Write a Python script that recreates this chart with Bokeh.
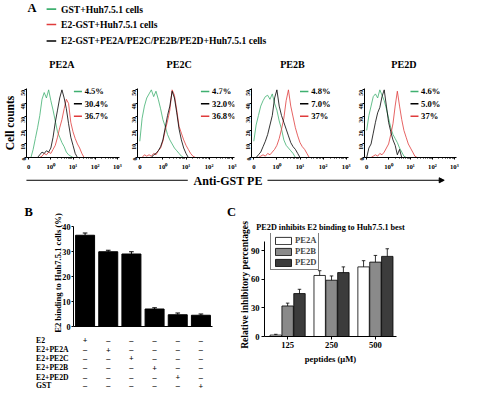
import math
from bokeh.plotting import figure
from bokeh.models import Range1d, FixedTicker, Legend, LegendItem, Arrow, NormalHead, Title
from bokeh.layouts import row, column
from bokeh.core.properties import value
from bokeh.embed import file_html
from bokeh.resources import INLINE

nan = float("nan")

# ---------------- data ----------------
legend_labels_A = ["GST+Huh7.5.1 cells", "E2-GST+Huh7.5.1 cells",
                   "E2-GST+PE2A/PE2C/PE2B/PE2D+Huh7.5.1 cells"]
panel_names = ["PE2A", "PE2C", "PE2B", "PE2D"]
pct_gst = ["4.5%", "4.7%", "4.8%", "4.6%"]
pct_peptide = ["30.4%", "32.0%", "7.0%", "5.0%"]
pct_e2 = ["36.7%", "36.8%", "37%", "37%"]

# log10 fluorescence bin centres ("0" label sits at -1)
hist_bins = [-1.0, -0.9, -0.8, -0.7, -0.6, -0.5, -0.4, -0.3, -0.2, -0.1, 0.0,
             0.1, 0.2, 0.3, 0.4, 0.5, 0.6, 0.7, 0.8, 0.9, 1.0, 1.1, 1.2, 1.3,
             1.4, 1.5, 1.6]
hist_tick_pos = [-1, 0, 1, 2, 3]
hist_tick_labels = ["0", "10⁰", "10¹", "10²", "10³"]
count_ticks = [0, 10, 20, 30, 40, 50]

gst_PE2A = [nan, 0, 6, 14, 22, 31, 43, 48, 44, 50, 42, 35, 27, 19, 15, 11, 8, 4, 2, 1, 0,
            nan, nan, nan, nan, nan, nan]
e2_PE2A = [nan, nan, nan, nan, nan, 0, 1, 3, 2, 4, 3, 6, 9, 15, 22, 28, 36, 43, 40, 26, 19,
           14, 10, 7, 3, 0, nan]
pep_PE2A = [nan, nan, nan, nan, 0, 2, 4, 3, 5, 4, 7, 15, 26, 35, 44, 50, 44, 36, 25, 15, 9,
            3, 0, nan, nan, nan, nan]

gst_PE2C = [12, 29, 38, 44, 47, 50, 45, 49, 43, 36, 28, 23, 17, 13, 10, 7, 5, 3, 1, 0,
            nan, nan, nan, nan, nan, nan, nan]
e2_PE2C = [nan, 0, 2, 1, 2, 1, 3, 2, 5, 7, 12, 20, 27, 35, 50, 46, 35, 23, 18, 13, 9, 6, 3,
           1, 0, nan, nan]
pep_PE2C = [nan, nan, nan, nan, nan, 0, 2, 3, 5, 8, 13, 22, 31, 38, 49, 44, 33, 21, 13, 7,
            3, 0, nan, nan, nan, nan, nan]

gst_PE2B = [12, 24, 31, 38, 42, 45, 46, 43, 47, 40, 35, 27, 21, 13, 9, 7, 5, 3, 0,
            nan, nan, nan, nan, nan, nan, nan, nan]
e2_PE2B = [nan, nan, 0, 1, 2, 1, 3, 2, 4, 6, 9, 14, 21, 29, 42, 50, 38, 30, 22, 16, 11, 8,
           6, 3, 0, nan, nan]
pep_PE2B = [nan, 0, 2, 4, 8, 12, 17, 24, 31, 44, 50, 38, 31, 26, 21, 16, 11, 8, 6, 3, 0,
            nan, nan, nan, nan, nan, nan]

gst_PE2D = [20, 31, 38, 45, 47, 44, 50, 46, 42, 36, 29, 22, 17, 14, 11, 7, 4, 1, 0,
            nan, nan, nan, nan, nan, nan, nan, nan]
e2_PE2D = [nan, nan, 0, 1, 2, 1, 3, 2, 4, 7, 10, 17, 25, 38, 49, 38, 28, 20, 15, 10, 7, 4,
           1, 0, nan, nan, nan]
pep_PE2D = [0, 7, 10, 18, 26, 33, 37, 45, 50, 38, 26, 19, 13, 9, 2, 6, 0,
            nan, nan, nan, nan, nan, nan, nan, nan, nan, nan]

gst_curves = [gst_PE2A, gst_PE2C, gst_PE2B, gst_PE2D]
e2_curves = [e2_PE2A, e2_PE2C, e2_PE2B, e2_PE2D]
pep_curves = [pep_PE2A, pep_PE2C, pep_PE2B, pep_PE2D]

# panel B
b_conditions = ["E2", "E2+PE2A", "E2+PE2C", "E2+PE2B", "E2+PE2D", "GST"]
b_binding = [36.5, 29.9, 29.0, 7.0, 4.7, 4.5]
b_error = [0.9, 0.6, 0.9, 0.5, 0.7, 0.5]
b_ticks = [0, 10, 20, 30, 40]

# panel C
c_doses = ["125", "250", "500"]
c_PE2A = [1.5, 64, 73]
c_PE2B = [32, 59, 78]
c_PE2D = [45, 67, 84]
c_err_PE2A = [0.8, 5, 6.5]
c_err_PE2B = [3, 4.5, 7]
c_err_PE2D = [4.5, 6, 8]
c_ticks = [0, 30, 60, 90]

# ---------------- styling ----------------
S = 0.96
FONT = "Liberation Serif"
GREEN = "#3fb070"
RED = "#e03c3c"


def sc(v):
    return int(round(v * S))


def fs(v):
    return f"{v * S:.1f}px"


def canvas(w, h, xr, yr, **kw):
    p = figure(width=w, height=h, x_range=xr, y_range=yr, output_backend="svg",
               toolbar_location=None, x_axis_location=None, y_axis_location=None, **kw)
    p.grid.visible = False
    p.outline_line_color = None
    return p


def txt(p, x, y, t, size, align="left"):
    p.text(x=x, y=y, text=t, text_font=value(FONT), text_font_style="bold",
           text_font_size=fs(size), text_baseline="middle", text_align=align,
           text_color="black")


def style_axes(p, tick_size, label_size):
    for ax in p.axis:
        ax.major_label_text_font = FONT
        ax.major_label_text_font_style = "bold"
        ax.major_label_text_font_size = fs(tick_size)
        ax.axis_label_text_font = FONT
        ax.axis_label_text_font_style = "bold"
        ax.axis_label_text_font_size = fs(label_size)
        ax.axis_line_color = "black"
        ax.major_tick_line_color = "black"
        ax.minor_tick_line_color = "black"
        ax.major_label_text_color = "black"
        ax.axis_label_text_color = "black"


def add_title(p, text, size, align, dx, standoff):
    p.add_layout(Title(text=text, align=align, offset=dx, text_font=FONT,
                       text_font_style="bold", text_font_size=fs(size),
                       text_color="black", standoff=standoff), "above")


W = 461

# ---------------- header (A legend + panel titles) ----------------
hdr = canvas(W, 77, Range1d(0, 480), Range1d(80, 0), min_border=0)
txt(hdr, [28], [8], ["A"], 13)
leg_y = [9, 25, 42]
hdr.segment(x0=[48, 48, 48], y0=leg_y, x1=[58, 58, 58], y1=leg_y,
            line_color=[GREEN, RED, "black"], line_width=1.6)
txt(hdr, [63, 63, 63], leg_y, legend_labels_A, 10)
txt(hdr, [64, 186, 304, 420], [66] * 4, panel_names, 10.5, "center")

# ---------------- histograms ----------------
hist_widths = [126, 114, 113, 108]
hist_left = [20, 11, 11, 11]
hist_right = [7, 6, 5, 5]
leg_dx = [53, 68, 52, 52]
XS, XE = -1.1, 3.1
YE = 51
minor = [k + math.log10(m) for k in range(0, 3) for m in range(2, 10)]
hists = []
for i in range(4):
    p = figure(width=hist_widths[i], height=96, x_range=Range1d(XS, XE),
               y_range=Range1d(0, YE), output_backend="svg", toolbar_location=None,
               min_border_left=hist_left[i], min_border_right=hist_right[i],
               min_border_top=11, min_border_bottom=16)
    p.grid.visible = False
    p.outline_line_color = None
    p.line(hist_bins, gst_curves[i], line_color=GREEN, line_width=0.8)
    p.line(hist_bins, e2_curves[i], line_color=RED, line_width=0.8)
    p.line(hist_bins, pep_curves[i], line_color="black", line_width=0.8)
    # in-panel legend
    ppu = 104 / (XE - XS)
    x0 = XS + leg_dx[i] / ppu
    x1 = XS + (leg_dx[i] + 9) / ppu
    xt = XS + (leg_dx[i] + 12) / ppu
    ys = [(163 - py) * YE / 72 for py in (94, 107, 120)]
    p.segment(x0=[x0] * 3, y0=ys, x1=[x1] * 3, y1=ys,
              line_color=[GREEN, "black", RED], line_width=1.5)
    txt(p, [xt] * 3, ys, [pct_gst[i], pct_peptide[i], pct_e2[i]], 9)

    p.xaxis.ticker = FixedTicker(ticks=hist_tick_pos, minor_ticks=minor)
    p.xaxis.major_label_overrides = {t: l for t, l in zip(hist_tick_pos, hist_tick_labels)}
    p.yaxis.ticker = FixedTicker(ticks=count_ticks)
    p.yaxis.major_label_orientation = math.pi / 2
    style_axes(p, 7, 12)
    p.yaxis.major_label_text_font_size = fs(6)
    p.axis.major_tick_out = 2
    p.axis.major_tick_in = 0
    p.axis.minor_tick_out = 1
    p.axis.minor_tick_in = 0
    p.yaxis.major_label_standoff = 1
    p.xaxis.major_label_standoff = 3
    if i == 0:
        p.yaxis.axis_label = "Cell counts"
        p.yaxis.axis_label_standoff = 1
    hists.append(p)

# ---------------- middle strip: Anti-GST PE ----------------
mid = canvas(W, 29, Range1d(0, 480), Range1d(210, 180), min_border=0)
mid.segment(x0=[27], y0=[187], x1=[195], y1=[187], line_color="black", line_width=1)
mid.add_layout(Arrow(end=NormalHead(size=5, fill_color="black", line_color="black"),
                     x_start=278, y_start=187, x_end=462, y_end=187,
                     line_color="black", line_width=1))
txt(mid, [237], [188], ["Anti-GST PE"], 12.5, "center")

# ---------------- panel B ----------------
bW, bH = 226, 130
b_left, b_right, b_bottom = sc(76), sc(15), sc(6)
xs = list(range(1, len(b_binding) + 1))
b = figure(width=bW, height=bH, x_range=Range1d(0.5, 6.5), y_range=Range1d(0, 42.8),
           output_backend="svg", toolbar_location=None, title_location=None,
           min_border_left=b_left, min_border_right=b_right, min_border_top=0,
           min_border_bottom=b_bottom)
b.grid.visible = False
b.outline_line_color = None
add_title(b, "B", 13, "left", -(76 - 25) * S, 1)
b.vbar(x=xs, top=b_binding, width=0.82, fill_color="black", line_color="black")
tops = [v + e for v, e in zip(b_binding, b_error)]
b.segment(x0=xs, y0=b_binding, x1=xs, y1=tops, line_color="black", line_width=1)
b.segment(x0=[x - 0.1 for x in xs], y0=tops, x1=[x + 0.1 for x in xs], y1=tops,
          line_color="black", line_width=1)
b.yaxis.ticker = FixedTicker(ticks=b_ticks)
b.yaxis.bounds = (0, 40)
b.yaxis.axis_label = "E2 binding to Huh7.5.1 cells (%)"
b.xaxis.ticker = FixedTicker(ticks=[])
style_axes(b, 8.5, 9)
b.xaxis.major_label_text_font_size = "0px"
b.yaxis.major_tick_out = 2
b.yaxis.major_tick_in = 0
b.yaxis.major_label_standoff = 1
b.yaxis.axis_label_standoff = -4

# table under B: row labels + symbol columns lined up with the bars
row_y = [353, 363, 372, 382, 392, 401]
tl = canvas(b_left, 58, Range1d(0, 76), Range1d(406, 345), min_border=0)
txt(tl, [37] * 6, row_y, b_conditions, 8)
ts = canvas(bW - b_left, 58, Range1d(0.5, 6.5), Range1d(406, 345), min_border_left=0,
            min_border_right=b_right, min_border_top=0, min_border_bottom=0)
sx, sy, st = [], [], []
for r, _ in enumerate(b_conditions):
    for j, x in enumerate(xs):
        sx.append(x)
        sy.append(row_y[r])
        st.append("+" if r == j else "–")
txt(ts, sx, sy, st, 8.5, "center")

# ---------------- panel C ----------------
cW, cH = W - bW, 188
c = figure(width=cW, height=cH, x_range=Range1d(0.473, 3.48), y_range=Range1d(0, 108),
           output_backend="svg", toolbar_location=None, title_location=None,
           min_border_left=sc(40), min_border_right=sc(68), min_border_top=0,
           min_border_bottom=sc(56))
c.grid.visible = False
c.outline_line_color = None
add_title(c, "PE2D inhibits E2 binding to Huh7.5.1 best", 8.5, "center", 0, 4)
add_title(c, "C", 13, "left", -(275 - 236) * S, 0)
gx = [1, 2, 3]
off = 0.27
series = [("PE2A", c_PE2A, c_err_PE2A, "white", -off),
          ("PE2B", c_PE2B, c_err_PE2B, "#8a8a8a", 0.0),
          ("PE2D", c_PE2D, c_err_PE2D, "#3c3c3c", off)]
items = []
for name, vals, errs, col, o in series:
    xx = [g + o for g in gx]
    r = c.vbar(x=xx, top=vals, width=0.26, fill_color=col, line_color="black", line_width=0.8)
    tt = [v + e for v, e in zip(vals, errs)]
    c.segment(x0=xx, y0=vals, x1=xx, y1=tt, line_color="black", line_width=0.8)
    c.segment(x0=[x - 0.04 for x in xx], y0=tt, x1=[x + 0.04 for x in xx], y1=tt,
              line_color="black", line_width=0.8)
    items.append(LegendItem(label=name, renderers=[r]))
leg = Legend(items=items, location=(6, 66), border_line_color="black",
             border_line_width=1, background_fill_color="white", background_fill_alpha=1,
             padding=2, margin=0, spacing=1, glyph_width=sc(21), glyph_height=sc(9),
             label_standoff=2, label_text_font=FONT, label_text_font_style="bold",
             label_text_font_size=fs(9), label_height=8)
c.add_layout(leg)
c.xaxis.ticker = FixedTicker(ticks=gx)
c.xaxis.major_label_overrides = {g: d for g, d in zip(gx, c_doses)}
c.xaxis.axis_label = "peptides (μM)"
c.yaxis.ticker = FixedTicker(ticks=c_ticks)
c.yaxis.bounds = (0, 100)
c.yaxis.axis_label = "Relative inhibitory percentages"
style_axes(c, 9, 10)
c.xaxis.axis_label_text_font_size = fs(9)
c.axis.major_tick_out = 3
c.axis.major_tick_in = 0
c.axis.major_label_standoff = 2
c.xaxis.axis_label_standoff = 3
c.yaxis.axis_label_standoff = -2

layout = column(hdr, row(*hists), mid, row(column(b, row(tl, ts)), c))
open("out.html", "w").write(file_html(layout, INLINE))
